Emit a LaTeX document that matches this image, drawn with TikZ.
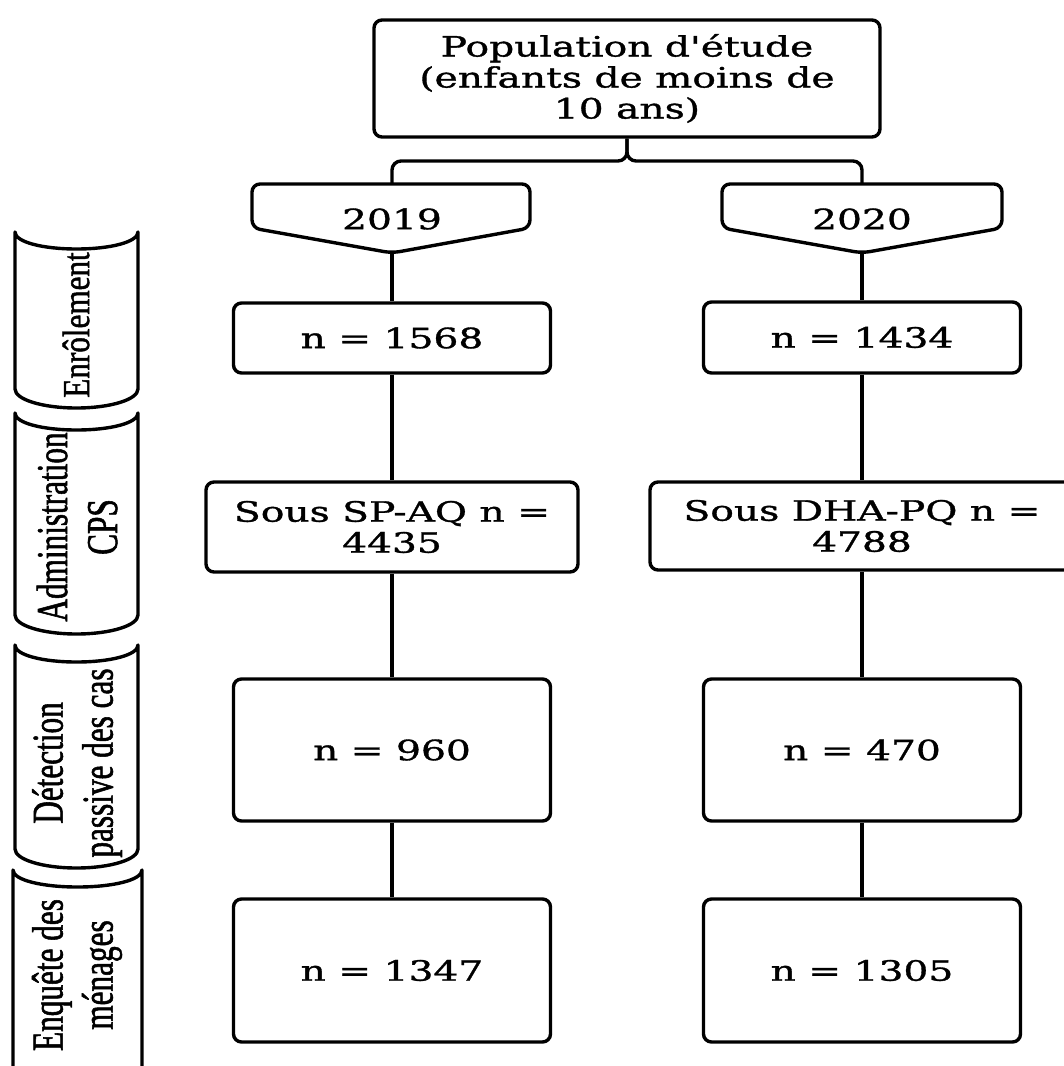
\documentclass[tikz,border=0pt]{standalone}
\usepackage{fontspec}
\newfontfamily\mainf[FakeStretch=1.40,FakeBold=1.2,Ligatures=TeXOff]{DejaVu Serif}
\newfontfamily\labf[FakeStretch=0.71,FakeBold=1.2]{Liberation Serif}
\newfontfamily\labfb[FakeStretch=0.82,FakeBold=1.2]{Liberation Serif}
\tikzset{
  box/.style={draw, line width=3.4pt, rounded corners=8pt, align=center, inner sep=0pt,
    font={\mainf\fontsize{28}{31}\selectfont}},
  yrtext/.style={inner sep=0pt, font={\mainf\fontsize{28}{31}\selectfont}},
  labtext/.style={inner sep=0pt, align=center, rotate=90, font={\labf\fontsize{44}{50}\selectfont}},
  conn/.style={line width=3.4pt},
  shapeline/.style={line width=3.4pt, line join=round},
}
\newcommand{\labshape}[4]{% xl, xr, yt, yb
  \draw[shapeline] (#1,#3) -- (#1,{#4-19})
    .. controls (#1,{#4-19+10.5}) and ({(#1+#2)/2-0.552*(#2-#1)/2},#4) .. ({(#1+#2)/2},#4)
    .. controls ({(#1+#2)/2+0.552*(#2-#1)/2},#4) and (#2,{#4-19+10.5}) .. (#2,{#4-19})
    -- (#2,#3)
    .. controls (#2,{#3+10}) and ({(#1+#2)/2+0.552*(#2-#1)/2},{#3+17}) .. ({(#1+#2)/2},{#3+17})
    .. controls ({(#1+#2)/2-0.552*(#2-#1)/2},{#3+17}) and (#1,{#3+10}) .. (#1,#3) -- cycle;
}
\begin{document}
\begin{tikzpicture}[x=1pt,y=-1pt]
\useasboundingbox (0,0) rectangle (1064,1066);
\fill[white] (0,0) rectangle (1064,1066);

% top box
\node[box, minimum width=506pt, minimum height=117pt] (top) at (627,78.5)
  {Population d'étude\\(enfants de moins de\\10 ans)};

% year pentagons
\draw[shapeline, rounded corners=8pt] (392,184) -- (530,184) -- (530,228) -- (392,253) -- (252,228) -- (252,184) -- cycle;
\draw[shapeline, rounded corners=8pt] (862,184) -- (1002,184) -- (1002,228) -- (862,253) -- (722,228) -- (722,184) -- cycle;
\node[yrtext] (p19) at (392,219) {2019};
\node[yrtext] (p20) at (862,219) {2020};
\coordinate (p19top) at (392,184);
\coordinate (p20top) at (862,184);
\coordinate (p19tip) at (392,253);
\coordinate (p20tip) at (862,253);
\coordinate (br) at (627,161);

% brace
\draw[conn, rounded corners=9pt] (p19top) |- (br) -- (top.south);
\draw[conn, rounded corners=9pt] (p20top) |- (br) -- (top.south);

% left column
\node[box, minimum width=317pt, minimum height=70pt] (b19a) at (392,338) {n = 1568};
\node[box, minimum width=372pt, minimum height=90pt] (b19b) at (392,527) {Sous SP-AQ n =\\4435};
\node[box, minimum width=317pt, minimum height=142pt] (b19c) at (392,750) {n = 960};
\node[box, minimum width=317pt, minimum height=143pt] (b19d) at (392,970.5) {n = 1347};

% right column
\node[box, minimum width=317pt, minimum height=71pt] (b20a) at (862,337.5) {n = 1434};
\node[box, minimum width=424pt, minimum height=88pt] (b20b) at (862,526) {Sous DHA-PQ n =\\4788};
\node[box, minimum width=317pt, minimum height=142pt] (b20c) at (862,750) {n = 470};
\node[box, minimum width=317pt, minimum height=143pt] (b20d) at (862,970.5) {n = 1305};

% connectors
\draw[conn] (p19tip) -- (b19a.north);
\draw[conn] (b19a) -- (b19b);
\draw[conn] (b19b) -- (b19c);
\draw[conn] (b19c) -- (b19d);
\draw[conn] (p20tip) -- (b20a.north);
\draw[conn] (b20a) -- (b20b);
\draw[conn] (b20b) -- (b20c);
\draw[conn] (b20c) -- (b20d);

% side labels
\labshape{15}{138}{232}{408}
\labshape{15}{138}{413}{634}
\labshape{15}{138}{645}{868}
\labshape{13}{142}{870}{1100}
\node[labtext, font={\labfb\fontsize{38}{44}\selectfont}] (l1) at (76,325) {Enrôlement};
\node[labtext] (l2) at (77,527) {Administration\\CPS};
\node[labtext] (l3) at (77,763) {Détection\\passive des cas};
\node[labtext] (l4) at (77,975) {Enquête des\\ménages};
\end{tikzpicture}
\end{document}
